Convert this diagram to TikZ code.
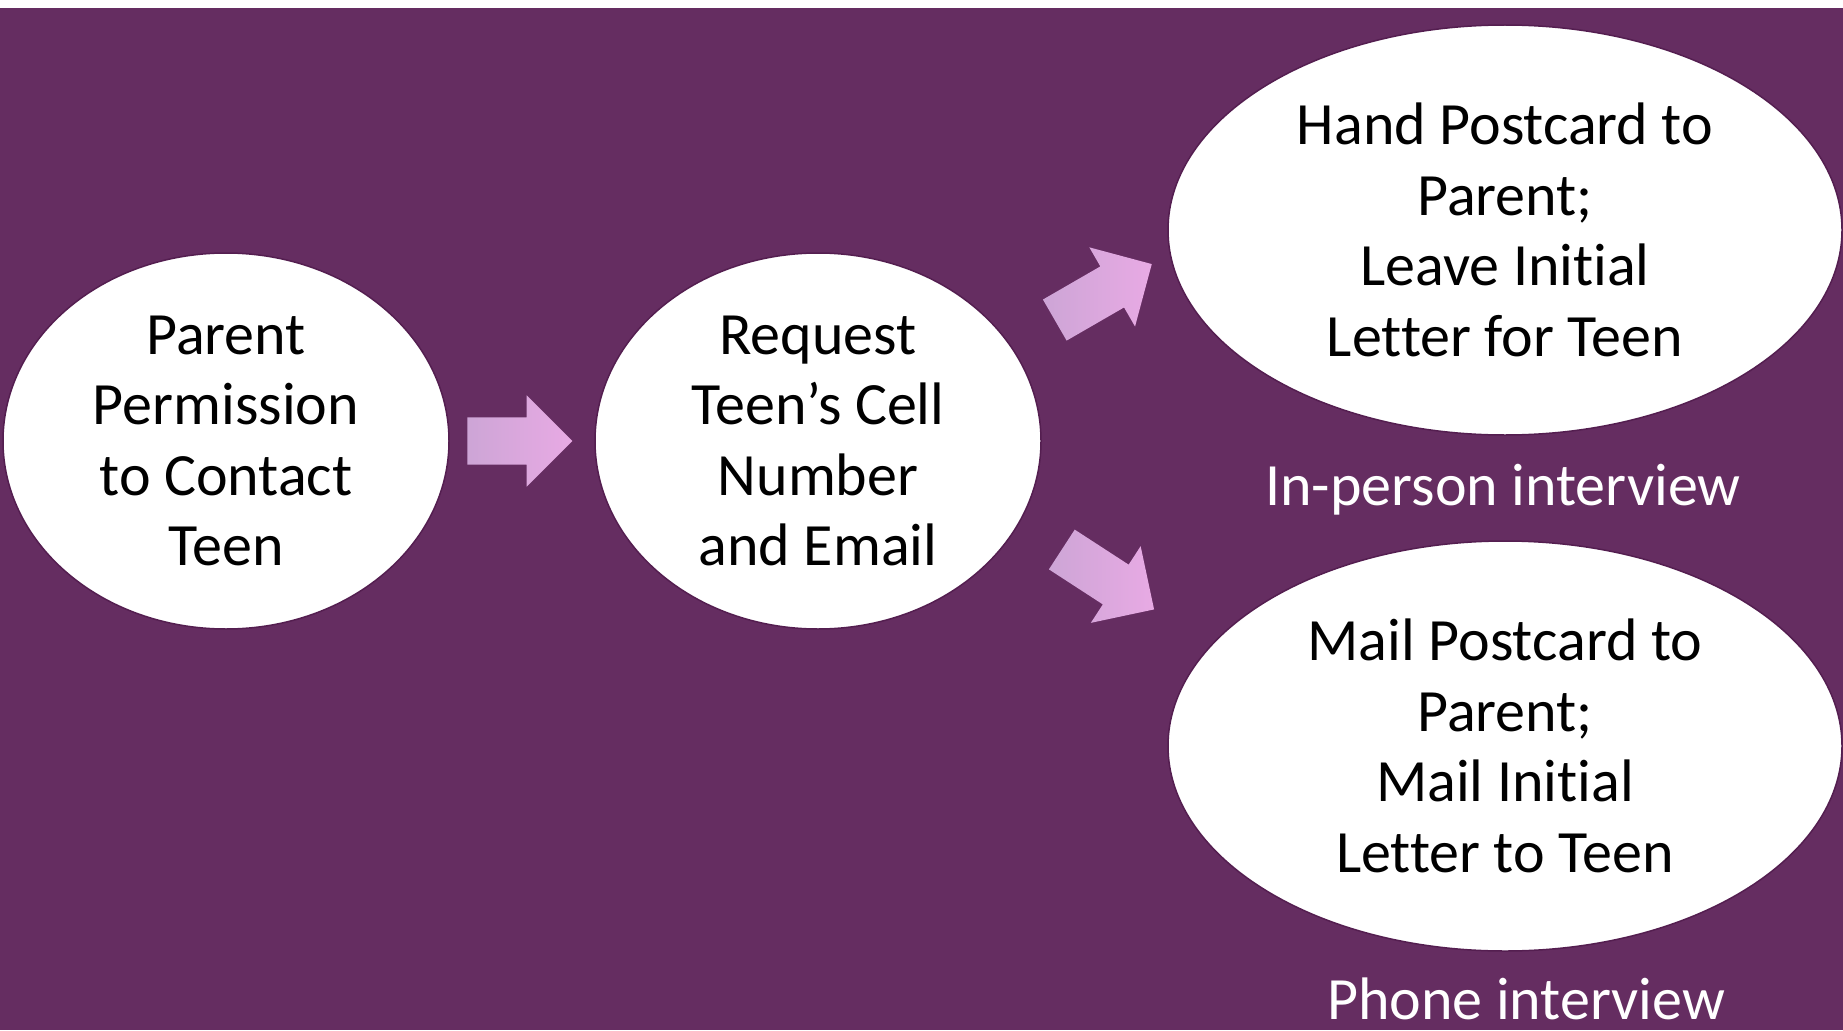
\documentclass[tikz,border=0pt]{standalone}
\usepackage{fontspec}
\setmainfont{Carlito}[RawFeature={-liga;-clig;-calt;-dlig;-rlig}]
\usetikzlibrary{shapes.geometric,shapes.arrows}
\definecolor{bgpurple}{RGB}{101,45,97}
\definecolor{rimpurple}{RGB}{84,30,80}
\definecolor{arrowlight}{RGB}{232,170,228}
\definecolor{arrowdark}{RGB}{205,165,214}
\tikzset{
  bubble/.style={ellipse, fill=white, draw=rimpurple, line width=1.5pt, inner sep=0pt,
    align=center, text=black, font=\fontsize{60}{70.5}\selectfont},
  blockarrow/.style={single arrow, single arrow head extend=22pt, single arrow tip angle=90,
    inner xsep=0pt, inner ysep=23.5pt, minimum width=91pt, left color=arrowdark, right color=arrowlight, draw=none},
  caption/.style={text=white, font=\fontsize{60}{70.5}\selectfont, anchor=base, inner sep=0pt}
}
\begin{document}
\begin{tikzpicture}[x=1pt,y=-1pt]
\useasboundingbox (0,0) rectangle (1843,1030);
\fill[white] (0,0) rectangle (1843,8);
\fill[bgpurple] (0,8) rectangle (1843,1030);
\node[bubble, minimum width=446pt, minimum height=376pt] (e1) at (226,441) {Parent\\Permission\\to Contact\\Teen};
\node[bubble, minimum width=446pt, minimum height=376pt] (e2) at (818,441) {Request\\Teen’s Cell\\Number\\and Email};
\node[bubble, minimum width=674pt, minimum height=410pt] (e3) at (1505,230) {Hand Postcard to\\Parent;\\Leave Initial\\Letter for Teen};
\node[bubble, minimum width=674pt, minimum height=410pt] (e4) at (1505,746) {Mail Postcard to\\Parent;\\Mail Initial\\Letter to Teen};
\node[blockarrow, minimum height=105pt] (a1) at (508,441) {};
\node[blockarrow, minimum height=112pt, rotate=30] (a2) at (1093,298) {};
\node[blockarrow, minimum height=110pt, rotate=-33] (a3) at (1098,573) {};
\node[caption] (l1) at (1503,505) {In-person interview};
\node[caption] (l2) at (1526,1019) {Phone interview};
\end{tikzpicture}
\end{document}
